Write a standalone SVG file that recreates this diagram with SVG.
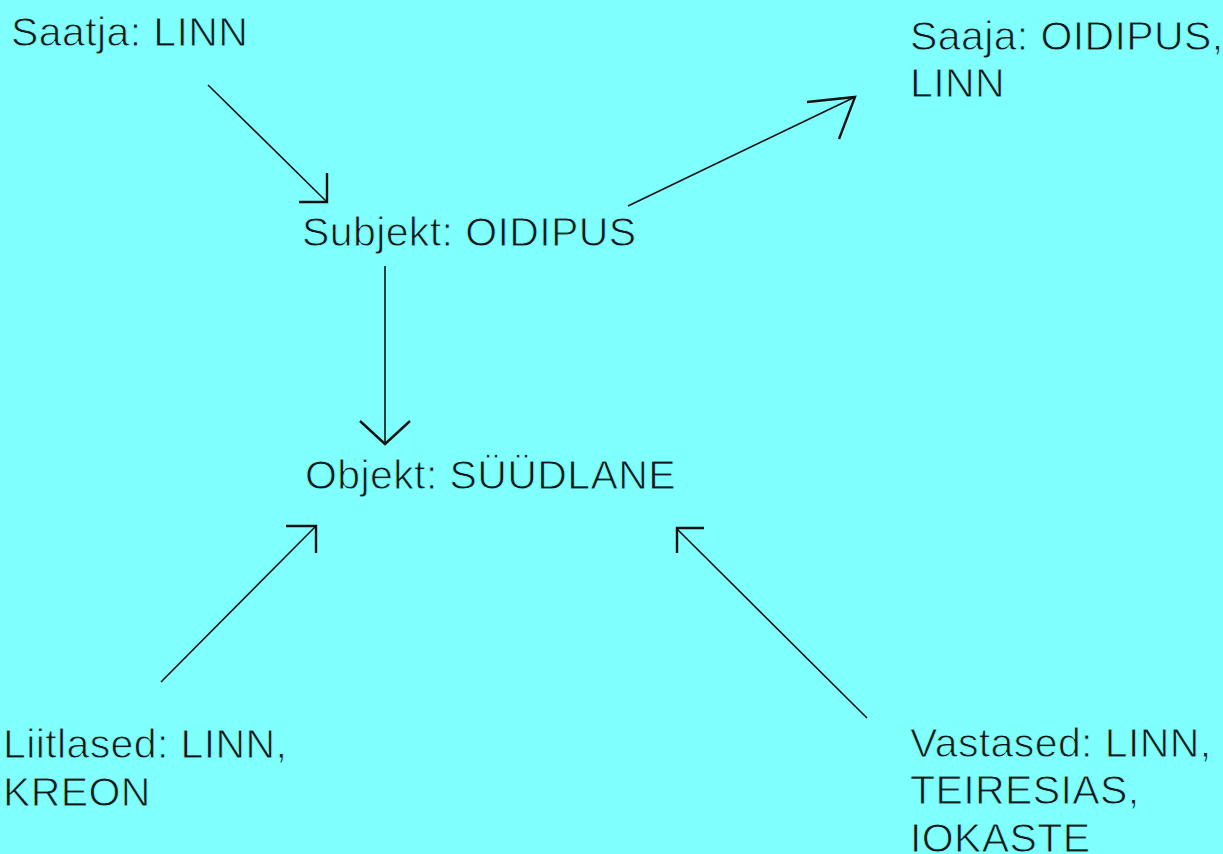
<svg xmlns="http://www.w3.org/2000/svg" width="1223" height="854" viewBox="0 0 1223 854">
  <style>
    .lbl { font-family: "Liberation Sans", Arial, sans-serif; font-size: 41px; letter-spacing: 0.4px; fill: #101818; stroke: #80FFFF; stroke-width: 0.9px; paint-order: normal; }
    .shaft { stroke: #111; stroke-width: 1.6; fill: none; }
    .head { stroke: #111; stroke-width: 2.4; fill: none; stroke-linejoin: miter; }
  </style>
  <rect width="1223" height="854" fill="#80FFFF"/>

  <g id="saatja"><text class="lbl" x="11" y="46">Saatja: LINN</text></g>
  <g id="saaja">
    <text class="lbl" x="910" y="50">Saaja: OIDIPUS,</text>
    <text class="lbl" x="910" y="97">LINN</text>
  </g>
  <g id="subjekt"><text class="lbl" x="302" y="246">Subjekt: OIDIPUS</text></g>
  <g id="objekt"><text class="lbl" x="305" y="489">Objekt: SÜÜDLANE</text></g>
  <g id="liitlased">
    <text class="lbl" x="3" y="758">Liitlased: LINN,</text>
    <text class="lbl" x="3" y="806">KREON</text>
  </g>
  <g id="vastased">
    <text class="lbl" x="910" y="757">Vastased: LINN,</text>
    <text class="lbl" x="910" y="804">TEIRESIAS,</text>
    <text class="lbl" x="910" y="852">IOKASTE</text>
  </g>

  <g id="connectors">
    <!-- sender to subject -->
    <line class="shaft" x1="208" y1="85" x2="327" y2="202"/>
    <polyline class="head" points="327,173 327,202 299,202"/>
    <!-- subject to receiver -->
    <line class="shaft" x1="628" y1="206" x2="855" y2="97"/>
    <polyline class="head" points="807,102 855,97 839,139"/>
    <!-- subject to object -->
    <line class="shaft" x1="385" y1="266" x2="385" y2="444"/>
    <polyline class="head" points="360,421 385,444 410,421"/>
    <!-- helpers to object -->
    <line class="shaft" x1="161" y1="682" x2="316" y2="526"/>
    <polyline class="head" points="286,526 316,526 316,553"/>
    <!-- opponents to object -->
    <line class="shaft" x1="867" y1="718" x2="677" y2="529"/>
    <polyline class="head" points="704,528 677,528 677,553"/>
  </g>
</svg>
